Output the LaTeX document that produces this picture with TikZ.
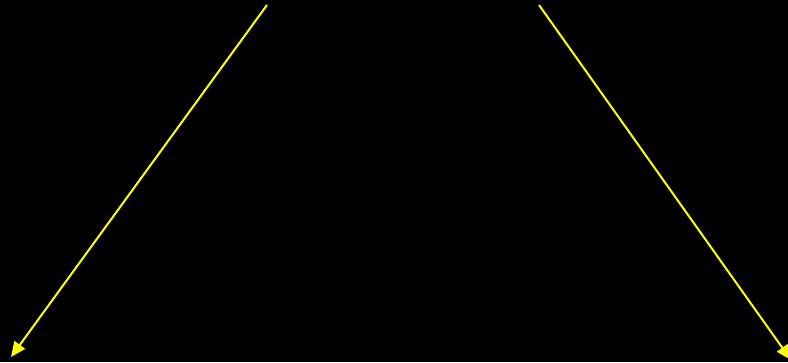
\documentclass[tikz,border=0pt]{standalone}
\usetikzlibrary{arrows.meta}
\definecolor{arrowyellow}{RGB}{255,255,0}
\tikzset{yarrow/.style={draw=arrowyellow,line width=2pt,-{Triangle[length=15pt,width=13pt]}}}
\begin{document}
\begin{tikzpicture}[x=1pt,y=-1pt]
\fill[black] (0,0) rectangle (788,362);
\useasboundingbox (0,0) rectangle (788,362);
\coordinate (a1) at (267,5);
\coordinate (a2) at (11,357);
\coordinate (b1) at (539,5);
\coordinate (b2) at (791,360);
\draw[yarrow] (a1) -- (a2);
\draw[yarrow] (b1) -- (b2);
\end{tikzpicture}
\end{document}
